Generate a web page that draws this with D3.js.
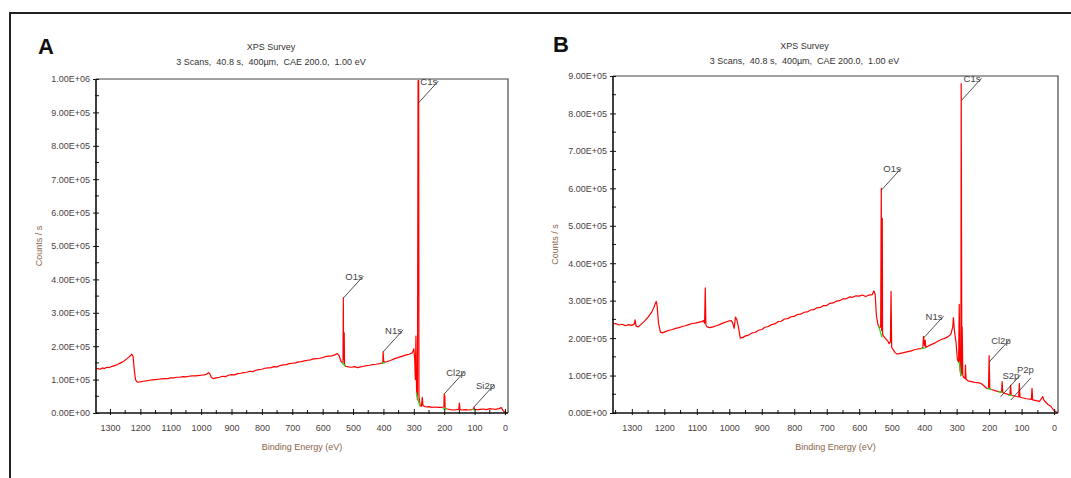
<!DOCTYPE html>
<html lang="en">
<head>
    <meta charset="UTF-8">
    <title>XPS Survey</title>
    <style>
        body { margin: 0; background: #fff; }
        svg { font-family: "Liberation Sans", Arial, sans-serif; }
        .tick-label { font-size: 9px; fill: #4a4040; }
        .axis-title { font-size: 9px; fill: #8a6448; }
        .title { font-size: 9px; fill: #333; white-space: pre; }
        .peak-label { font-size: 9.5px; fill: #444; }
        .spectrum { fill: none; stroke: #ff0000; stroke-width: 1.2; stroke-linejoin: round; }
        .bg { fill: none; stroke: #22dd22; stroke-width: 1.3; }
    </style>
</head>
<body>
<svg id="chart"></svg>
<script src="https://d3js.org/d3.v7.min.js"></script>
<script>
    // ---- data: panel A ----
    var aBE = [1346, 1340, 1332, 1325, 1318, 1310, 1302, 1295, 1285, 1275, 1265, 1255, 1245, 1237, 1232, 1228, 1224, 1220, 1216,
        1210, 1200, 1190, 1180, 1170, 1160, 1150, 1140, 1130, 1120, 1110, 1100, 1090, 1080, 1070, 1060, 1050, 1040, 1030, 1020,
        1010, 1000, 990, 982, 976, 972, 966, 960, 950, 940, 930, 920, 910, 900, 890, 880, 870, 860, 850, 840, 830, 820, 810, 800,
        790, 780, 770, 760, 750, 740, 730, 720, 710, 700, 690, 680, 670, 660, 650, 640, 630, 620, 610, 600, 590, 580, 570, 560,
        552, 546, 540, 536, 533, 532, 531, 529, 528, 525, 515, 505, 495, 485, 475, 465, 455, 445,
        435, 425, 412, 402, 401, 399, 395, 385, 375, 365, 355, 345, 335, 325, 315, 305, 300, 297, 295, 293, 291, 288, 286, 284,
        283, 281, 279, 275, 272, 270, 260, 250, 240, 230, 220, 210, 201, 200, 199, 198, 197, 190, 180, 170, 160, 152, 150, 148,
        140, 130, 120, 110, 103, 102, 100, 90, 80, 70, 60, 50, 40, 30, 20, 12, 8, 4, 0, -8]
    var aCounts = [1.30, 1.33, 1.31, 1.35, 1.33, 1.37, 1.36, 1.39, 1.42, 1.45, 1.50, 1.55, 1.62, 1.68, 1.72, 1.76, 1.70, 1.30, 1.00,
        0.92, 0.93, 0.95, 0.96, 0.98, 0.99, 1.00, 1.01, 1.02, 1.03, 1.03, 1.05, 1.05, 1.07, 1.07, 1.09, 1.08, 1.10, 1.11, 1.11,
        1.12, 1.13, 1.14, 1.16, 1.21, 1.18, 1.06, 1.03, 1.05, 1.07, 1.10, 1.09, 1.13, 1.15, 1.14, 1.18, 1.19, 1.21, 1.22, 1.25, 1.24,
        1.28, 1.30, 1.31, 1.34, 1.35, 1.36, 1.39, 1.38, 1.42, 1.44, 1.45, 1.48, 1.49, 1.50, 1.53, 1.54, 1.56, 1.58, 1.59, 1.62,
        1.63, 1.64, 1.66, 1.69, 1.70, 1.71, 1.74,
        1.78, 1.72, 1.55, 1.52, 1.50, 3.45, 1.60, 2.40, 1.45, 1.40, 1.38,
        1.37, 1.39, 1.36, 1.38, 1.40, 1.42, 1.43, 1.45, 1.46, 1.48, 1.50, 1.83, 1.55, 1.52, 1.55, 1.58, 1.62, 1.65, 1.68, 1.71,
        1.74, 1.76, 1.80, 1.92, 1.60, 1.00, 2.30, 0.70, 0.40, 9.95, 9.95, 0.50, 0.35, 0.22, 0.20, 0.47, 0.22, 0.18, 0.19, 0.17,
        0.18, 0.17, 0.17, 0.18, 0.57, 0.20, 0.52, 0.14, 0.12, 0.10, 0.09, 0.10, 0.11, 0.30, 0.10, 0.09, 0.10, 0.09, 0.10, 0.12,
        0.18, 0.11, 0.10, 0.11, 0.12, 0.10, 0.13, 0.12, 0.11, 0.13, 0.16, 0.10, 0.05, 0.02, 0.00]
    var aPeaks = ["C1s", "O1s", "N1s", "Cl2p", "Si2p"]
    var aPeakBE = [285, 532, 401, 200, 102]
    var aPeakAt = [9.28, 3.44, 1.83, 0.57, 0.18]
    // background regions: [BE from, value, BE to, value]
    var aBackground = [[538, 1.52, 525, 1.40], [406, 1.49, 395, 1.50], [292, 0.62, 280, 0.20], [205, 0.13, 192, 0.12], [110, 0.10, 100, 0.10]]

    // ---- data: panel B ----
    var bBE = [1358, 1350, 1340, 1330, 1320, 1310, 1300, 1292, 1290, 1287, 1280, 1270, 1260, 1250, 1240, 1232, 1228, 1225, 1222,
        1218, 1212, 1205, 1195, 1185, 1175, 1165, 1155, 1145, 1135, 1125, 1115, 1105, 1095, 1085, 1080, 1076, 1074, 1072, 1068,
        1060, 1050, 1040, 1030, 1020, 1010, 1000, 995, 990, 985, 981, 977, 972, 966, 958, 950, 940, 930, 920, 910, 900, 890,
        880, 870, 860, 850, 840, 830, 820, 810, 800, 790, 780, 770, 760, 750, 740, 730, 720, 710, 700, 690, 680, 670, 660, 650,
        640, 630, 620, 610, 600, 590, 580, 570, 560, 555, 551, 547, 542, 538, 534, 532, 531, 529, 528, 525, 520, 512, 508, 504,
        502, 500, 496, 490, 485, 480, 470, 460, 450, 440, 430, 420, 410, 404, 402, 399, 397, 395, 385, 375, 365, 355, 345, 335,
        325, 318, 312, 310, 307, 302, 298, 294, 292, 290, 287, 286, 284, 283, 281, 278, 274, 273, 271, 265, 255, 245, 235, 225,
        215, 208, 202, 200, 198, 190, 180, 170, 162, 160, 158, 150, 140, 136, 134, 132, 125, 115, 109, 107, 105, 95, 85, 75, 70,
        68, 66, 55, 45, 38, 35, 32, 25, 18, 10, 5, 0, -10]
    var bCounts = [2.38, 2.39, 2.35, 2.37, 2.33, 2.36, 2.34, 2.38, 2.49, 2.32, 2.30, 2.38, 2.46, 2.56, 2.68, 2.82, 2.92, 2.98, 2.85,
        2.40, 2.16, 2.14, 2.18, 2.21, 2.23, 2.26, 2.28, 2.31, 2.33, 2.36, 2.39, 2.40, 2.42, 2.44, 2.47, 2.40, 3.34, 2.35, 2.30,
        2.28, 2.30, 2.33, 2.36, 2.40, 2.43, 2.46, 2.47, 2.42, 2.26, 2.56, 2.50, 2.30, 2.00, 2.02, 2.06, 2.08, 2.14, 2.15, 2.21,
        2.23, 2.29, 2.31, 2.36, 2.38, 2.44, 2.45, 2.51, 2.52, 2.57, 2.58, 2.63, 2.64, 2.69, 2.70, 2.75, 2.76, 2.81, 2.82, 2.87,
        2.87, 2.93, 2.94, 2.99, 3.00, 3.05, 3.05, 3.10, 3.09, 3.13, 3.12, 3.15, 3.11, 3.15, 3.16, 3.26, 3.18, 2.60, 2.35, 2.28,
        2.30, 6.00, 2.20, 5.20, 2.10, 2.05, 2.00, 1.92, 1.85, 1.90, 3.25, 1.75, 1.70, 1.62, 1.58, 1.58, 1.60, 1.62, 1.64, 1.66,
        1.69, 1.71, 1.72, 1.75, 2.05, 1.80, 1.95, 1.75, 1.80, 1.84, 1.88, 1.93, 1.97, 2.00, 2.05, 2.10, 2.30, 2.55, 2.20, 1.90,
        1.45, 1.35, 2.90, 1.20, 1.00, 8.80, 1.05, 2.30, 1.00, 0.95, 0.92, 1.28, 0.90, 0.86, 0.84, 0.82, 0.81, 0.79, 0.72, 0.66,
        0.65, 1.53, 0.64, 0.62, 0.59, 0.57, 0.55, 0.84, 0.54, 0.52, 0.49, 0.48, 0.74, 0.47, 0.46, 0.44, 0.43, 0.79, 0.42, 0.40,
        0.38, 0.37, 0.36, 0.66, 0.35, 0.33, 0.31, 0.40, 0.44, 0.35, 0.28, 0.22, 0.18, 0.12, 0.06, 0.01]
    var bPeaks = ["C1s", "O1s", "N1s", "Cl2p", "S2p", "P2p"]
    var bPeakBE = [285, 532, 402, 200, 165, 133]
    var bPeakAt = [8.35, 5.95, 2.00, 1.36, 0.43, 0.35]
    var bBackground = [[540, 2.32, 530, 2.02], [410, 1.72, 396, 1.74], [292, 1.38, 287, 1.00], [205, 0.66, 192, 0.63], [172, 0.57, 160, 0.55], [141, 0.48, 129, 0.47]]

    // ---- tick labels ----
    var xTicks = [1300, 1200, 1100, 1000, 900, 800, 700, 600, 500, 400, 300, 200, 100, 0]
    var aYTicks = [0, 1, 2, 3, 4, 5, 6, 7, 8, 9, 10]
    var aYLabels = ["0.00E+00", "1.00E+05", "2.00E+05", "3.00E+05", "4.00E+05", "5.00E+05", "6.00E+05", "7.00E+05", "8.00E+05", "9.00E+05", "1.00E+06"]
    var bYTicks = [0, 1, 2, 3, 4, 5, 6, 7, 8, 9]
    var bYLabels = ["0.00E+00", "1.00E+05", "2.00E+05", "3.00E+05", "4.00E+05", "5.00E+05", "6.00E+05", "7.00E+05", "8.00E+05", "9.00E+05"]
    var titleText = "XPS Survey"
    var subtitleText = "3 Scans,  40.8 s,  400\u00b5m,  CAE 200.0,  1.00 eV"

    var W = 1071, H = 478
    var svg = d3.select('#chart').attr('width', W).attr('height', H)
    svg.append('rect').attr('width', W).attr('height', H).attr('fill', '#fff')

    // outer frame
    svg.append('path').attr('d', 'M10,478V13H1071').attr('fill', 'none').attr('stroke', '#222').attr('stroke-width', 2)

    function panel(opt) {
        var g = svg.append('g')
        var x = d3.scaleLinear().domain(opt.xDomain).range([opt.left, opt.right])
        var y = d3.scaleLinear().domain([0, opt.yMax]).range([opt.bottom, opt.top])

        g.append('text').attr('x', opt.letterX).attr('y', opt.letterY).text(opt.letter)
            .attr('font-size', 22).attr('font-weight', 'bold').attr('fill', '#111')

        var cx = (opt.left + opt.right) / 2
        g.append('text').attr('class', 'title').attr('x', cx - 31).attr('y', opt.titleY).attr('text-anchor', 'middle').text(titleText)
        g.append('text').attr('class', 'title').attr('x', cx - 31).attr('y', opt.titleY + 15).attr('text-anchor', 'middle').text(subtitleText)

        // frame top/right
        g.append('path').attr('d', 'M' + opt.left + ',' + opt.top + 'H' + opt.right + 'V' + opt.bottom)
            .attr('fill', 'none').attr('stroke', '#444').attr('stroke-width', 1.2)

        // spectrum
        var pts = opt.be.map(function (d, i) { return [d, opt.counts[i]] })
        var line = d3.line().x(function (d) { return x(d[0]) }).y(function (d) { return y(d[1]) })
        g.append('path').datum(pts).attr('class', 'spectrum').attr('d', line)

        // background markers
        g.selectAll('.bg').data(opt.bg).enter().append('line').attr('class', 'bg')
            .attr('x1', function (d) { return x(d[0]) }).attr('y1', function (d) { return y(d[1]) })
            .attr('x2', function (d) { return x(d[2]) }).attr('y2', function (d) { return y(d[3]) })

        // y axis with crossing ticks
        var yAxis = d3.axisLeft(y).tickValues(opt.yTicks).tickSize(4).tickPadding(2)
            .tickFormat(function (d, i) { return opt.yLabels[i] })
        var ya = g.append('g').attr('transform', 'translate(' + opt.left + ',0)').call(yAxis)
        ya.selectAll('text').attr('class', 'tick-label')
        ya.selectAll('.tick line').attr('x2', -3).attr('x1', 3).attr('stroke', '#111')
        var yMinor = opt.yTicks.slice(0, -1).map(function (d) { return d + 0.5 })
        ya.selectAll('.minor').data(yMinor).enter().append('line').attr('class', 'minor')
            .attr('x1', -1).attr('x2', 3).attr('y1', function (d) { return y(d) }).attr('y2', function (d) { return y(d) })
            .attr('stroke', '#111')
        ya.select('.domain').attr('d', 'M0,' + opt.top + 'V' + opt.bottom).attr('stroke', '#111').attr('stroke-width', 1.6)

        // x axis
        var xAxis = d3.axisBottom(x).tickValues(xTicks).tickSize(4).tickPadding(8).tickFormat(d3.format('d'))
        var xa = g.append('g').attr('transform', 'translate(0,' + opt.bottom + ')').call(xAxis)
        xa.selectAll('text').attr('class', 'tick-label')
        xa.selectAll('.tick line').attr('y1', -4).attr('y2', 2).attr('stroke', '#111')
        var xMinor = xTicks.slice(0, -1).map(function (d) { return d - 50 }).concat([1350]).filter(function (d) { return d < opt.xDomain[0] })
        xa.selectAll('.minor').data(xMinor).enter().append('line').attr('class', 'minor')
            .attr('x1', function (d) { return x(d) }).attr('x2', function (d) { return x(d) })
            .attr('y1', -3).attr('y2', 1).attr('stroke', '#111')
        xa.select('.domain').attr('d', 'M' + opt.left + ',0H' + opt.right).attr('stroke', '#111').attr('stroke-width', 1.6)

        // axis titles
        g.append('text').attr('class', 'axis-title').attr('text-anchor', 'middle')
            .attr('transform', 'translate(' + opt.yTitleX + ',' + ((opt.top + opt.bottom) / 2) + ') rotate(-90)')
            .text('Counts / s')
        g.append('text').attr('class', 'axis-title').attr('text-anchor', 'middle')
            .attr('x', cx).attr('y', opt.bottom + 37).text('Binding Energy (eV)')

        // peak labels with leader lines
        var pk = g.selectAll('.peak').data(opt.peaks).enter().append('g').attr('class', 'peak')
        pk.append('line')
            .attr('x1', function (d, i) { return x(opt.peakBE[i]) }).attr('y1', function (d, i) { return y(opt.peakAt[i]) })
            .attr('x2', function (d, i) { return x(opt.peakBE[i]) + 20 }).attr('y2', function (d, i) { return y(opt.peakAt[i]) - 22 })
            .attr('stroke', '#222').attr('stroke-width', 0.8)
        pk.append('text').attr('class', 'peak-label')
            .attr('x', function (d, i) { return x(opt.peakBE[i]) + (d === 'P2p' ? 6 : 2) })
            .attr('y', function (d, i) { return y(opt.peakAt[i]) - 18 - (d === 'P2p' ? 9 : 0) })
            .text(function (d) { return d })
    }

    panel({
        letter: 'A', letterX: 38, letterY: 54, titleY: 50,
        left: 96, right: 508, top: 79, bottom: 413, xDomain: [1346, -10], yMax: 10,
        be: aBE, counts: aCounts, bg: aBackground, yTicks: aYTicks, yLabels: aYLabels,
        peaks: aPeaks, peakBE: aPeakBE, peakAt: aPeakAt, yTitleX: 42
    })
    panel({
        letter: 'B', letterX: 553, letterY: 52, titleY: 49,
        left: 613, right: 1058, top: 76, bottom: 413, xDomain: [1358, -12], yMax: 9,
        be: bBE, counts: bCounts, bg: bBackground, yTicks: bYTicks, yLabels: bYLabels,
        peaks: bPeaks, peakBE: bPeakBE, peakAt: bPeakAt, yTitleX: 558
    })
</script>
</body>
</html>
